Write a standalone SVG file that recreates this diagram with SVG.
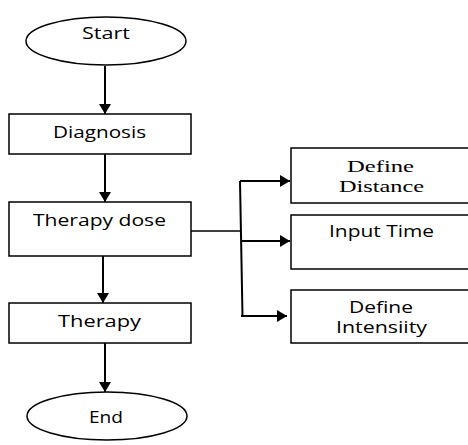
<svg xmlns="http://www.w3.org/2000/svg" width="468" height="445" viewBox="0 0 468 445">
<defs>
<style>
.box{fill:#fff;stroke:#000;stroke-width:1.5}
.t{font-family:"Open Sans","Noto Sans",sans-serif;font-size:16px;fill:#000;text-anchor:middle}
.s{font-family:"Liberation Serif",serif;font-size:17px;fill:#000;text-anchor:middle}
.c{fill:none;stroke:#000;stroke-width:2}
.c1{fill:none;stroke:#000;stroke-width:1.3}
</style>
<marker id="ah" markerUnits="userSpaceOnUse" markerWidth="12" markerHeight="12" refX="10" refY="6" orient="auto">
<path d="M0,0 L10,6 L0,12 Z" fill="#000"/>
</marker>
</defs>
<rect width="468" height="445" fill="#fff"/>
<g id="connectors">
<line class="c" x1="105" y1="66" x2="105" y2="114" marker-end="url(#ah)"/>
<line class="c" x1="105" y1="154" x2="105" y2="202" marker-end="url(#ah)"/>
<line class="c" x1="103" y1="256" x2="103" y2="303" marker-end="url(#ah)"/>
<line class="c" x1="105" y1="343" x2="105" y2="392" marker-end="url(#ah)"/>
<line class="c1" x1="191" y1="231" x2="241" y2="231"/>
<line class="c" x1="240" y1="181" x2="242.5" y2="316"/>
<line class="c" x1="240" y1="181" x2="290" y2="181" marker-end="url(#ah)"/>
<line class="c" x1="242" y1="241" x2="290" y2="241" marker-end="url(#ah)"/>
<line class="c" x1="241" y1="316" x2="287" y2="316" marker-end="url(#ah)"/>
</g>
<g id="start">
<ellipse class="box" cx="106" cy="41" rx="80" ry="24"/>
<text class="t" x="106" y="39" textLength="48" lengthAdjust="spacingAndGlyphs">Start</text>
</g>
<g id="diagnosis">
<rect class="box" x="9" y="114" width="182" height="40"/>
<text class="t" x="99.5" y="138" textLength="93" lengthAdjust="spacingAndGlyphs">Diagnosis</text>
</g>
<g id="therapy-dose">
<rect class="box" x="9" y="202" width="182" height="54"/>
<text class="t" x="99.5" y="226" textLength="133" lengthAdjust="spacingAndGlyphs">Therapy dose</text>
</g>
<g id="therapy">
<rect class="box" x="9" y="303" width="182" height="40"/>
<text class="t" x="99.5" y="327" textLength="83" lengthAdjust="spacingAndGlyphs">Therapy</text>
</g>
<g id="end">
<ellipse class="box" cx="107" cy="416" rx="80" ry="24"/>
<text class="t" x="106" y="423" textLength="34" lengthAdjust="spacingAndGlyphs">End</text>
</g>
<g id="define-distance">
<rect class="box" x="291" y="148" width="180" height="55"/>
<text class="s" x="380.5" y="172" textLength="67" lengthAdjust="spacingAndGlyphs">Define</text>
<text class="s" x="381.5" y="192" textLength="85" lengthAdjust="spacingAndGlyphs">Distance</text>
</g>
<g id="input-time">
<rect class="box" x="291" y="215" width="180" height="54"/>
<text class="t" x="381.5" y="237" textLength="105" lengthAdjust="spacingAndGlyphs">Input Time</text>
</g>
<g id="define-intensity">
<rect class="box" x="291" y="290" width="180" height="53"/>
<text class="t" x="381" y="313" textLength="64" lengthAdjust="spacingAndGlyphs">Define</text>
<text class="t" x="381.5" y="333" textLength="91" lengthAdjust="spacingAndGlyphs">Intensiity</text>
</g>
</svg>
